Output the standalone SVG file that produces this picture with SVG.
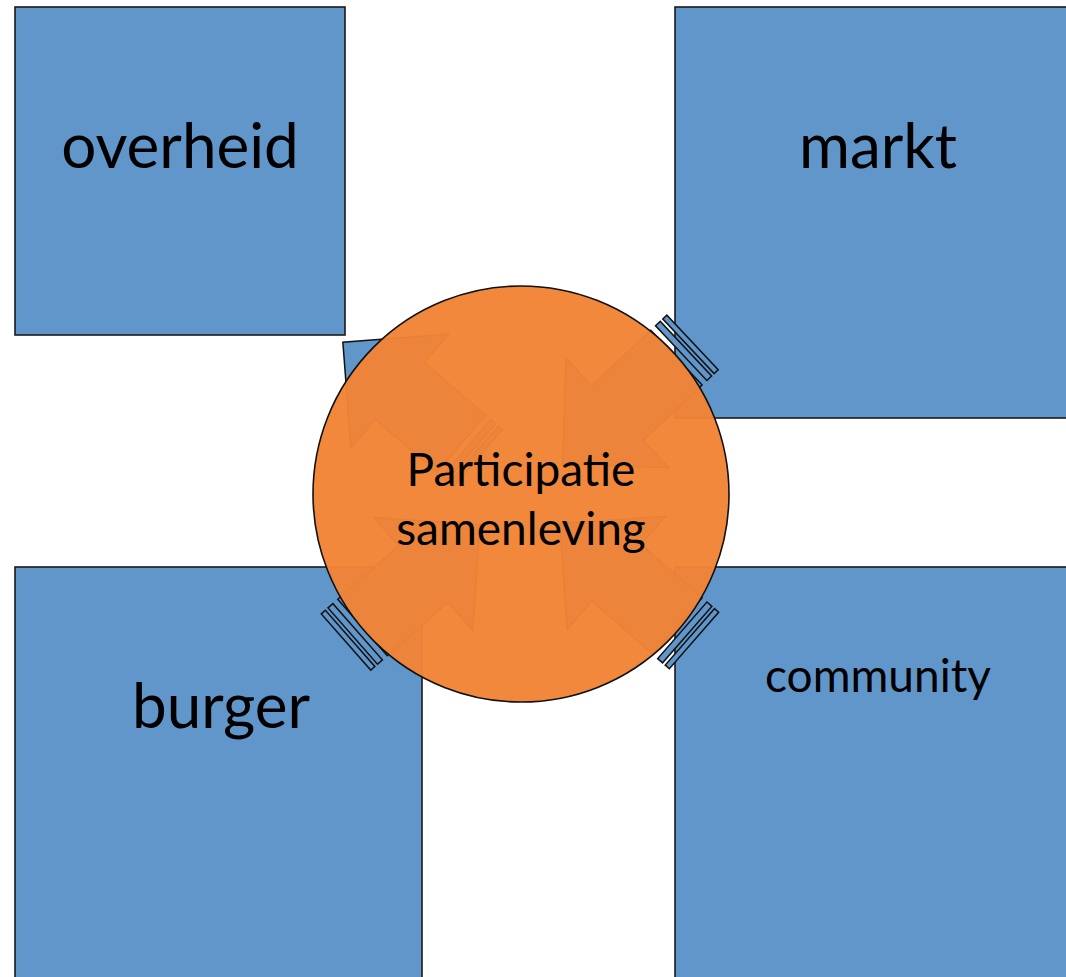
<svg xmlns="http://www.w3.org/2000/svg" width="1066" height="977" viewBox="0 0 1066 977">
  <defs>
    <style>
      .box { fill: #6096c9; stroke: #1a1a1a; stroke-width: 1.6; }
      .arr { fill: #6096c9; stroke: #111; stroke-width: 1.5; stroke-linejoin: miter; }
      .lbl { font-family: Lato, "Open Sans", "Liberation Sans", sans-serif; fill: #000; text-anchor: middle; }
      .big { font-size: 62px; }
      .mid { font-size: 46px; }
    </style>
    <g id="striped">
      <path d="M0,-37.5 H5.5 V37.5 H0 Z"/>
      <path d="M9,-37.5 H15.5 V37.5 H9 Z"/>
      <path d="M22,-37.5 H103 V-75 L178,0 L103,75 V37.5 H22 Z"/>
    </g>
  </defs>
  <rect width="1066" height="977" fill="#fff"/>

  <g id="node-overheid">
    <rect class="box" x="15" y="7" width="330" height="328"/>
    <text class="lbl big" x="180" y="168">overheid</text>
  </g>
  <g id="node-markt">
    <rect class="box" x="675" y="7" width="400" height="411"/>
    <text class="lbl big" x="878" y="168">markt</text>
  </g>
  <g id="node-burger">
    <rect class="box" x="15" y="567" width="407" height="420"/>
    <text class="lbl big" x="221" y="728">burger</text>
  </g>
  <g id="node-community">
    <rect class="box" x="675" y="567" width="400" height="420"/>
    <text class="lbl mid" x="878" y="692">community</text>
  </g>

  <g id="connectors" class="arr">
    <use href="#striped" transform="translate(692.5,342.5) rotate(136.8)"/>
    <use href="#striped" transform="translate(694,640.5) rotate(221.1)"/>
    <use href="#striped" transform="translate(346,642) rotate(-41.3)"/>
    <use href="#striped" transform="translate(478,458) rotate(-139.4)"/>
  </g>

  <g id="node-participatie">
    <circle cx="521" cy="494" r="208" fill="#f18436" fill-opacity="0.97" stroke="#111" stroke-width="1.6"/>
    <text class="lbl mid" x="521" y="486">Participatie</text>
    <text class="lbl mid" x="521" y="545">samenleving</text>
  </g>
</svg>
